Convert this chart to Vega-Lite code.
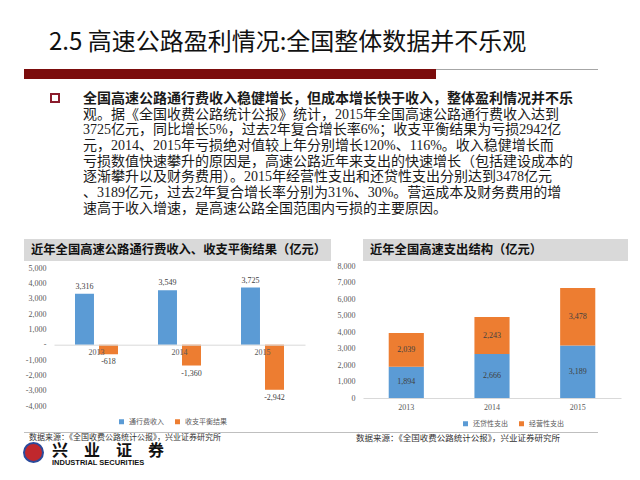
{
  "$schema": "https://vega.github.io/schema/vega-lite/v6.json",
  "background": "white",
  "padding": {"left": 23, "top": 31, "right": 0, "bottom": 0},
  "config": {
    "view": {"stroke": null},
    "font": "Noto Sans CJK SC",
    "title": {"anchor": "start", "frame": "group", "color": "#1a1a1a"},
    "axis": {"labelFont": "Liberation Serif", "labelFontSize": 8, "labelColor": "#595959", "ticks": false, "grid": false, "title": null},
    "legend": {"labelFont": "Noto Sans CJK SC", "labelFontSize": 7, "labelColor": "#595959", "symbolType": "square", "symbolSize": 25, "title": null, "direction": "horizontal", "orient": "none", "columnPadding": 10, "symbolStrokeWidth": 0}
  },
  "spacing": 5,
  "vconcat": [
    {
      "spacing": 22,
      "vconcat": [
        {
          "spacing": 12,
          "vconcat": [
            {
              "spacing": 0,
              "title": {"text": "2.5 高速公路盈利情况:全国整体数据并不乐观", "orient": "top", "offset": 14, "dx": 25, "fontSize": 24, "fontWeight": "normal", "color": "#111111"},
              "hconcat": [
                {
                  "width": 412, "height": 10,
                  "view": {"fill": "#7b0c0c", "stroke": null},
                  "data": {"values": []},
                  "mark": "rule",
                  "encoding": {}
                },
                {
                  "width": 162, "height": 1,
                  "view": {"fill": "#a6a6a6", "stroke": null},
                  "data": {"values": []},
                  "mark": "rule",
                  "encoding": {}
                }
              ]
            },
            {
              "spacing": 25,
              "hconcat": [
                {"width": 1, "height": 1, "data": {"values": []}, "mark": "rule", "encoding": {}},
                {
                  "width": 8, "height": 8,
                  "view": {"fill": null, "stroke": "#8b1c2c", "strokeWidth": 2},
                  "title": {
                    "text": ["全国高速公路通行费收入稳健增长，但成本增长快于收入，整体盈利情况并不乐"],
                    "subtitle": [
                      "观。据《全国收费公路统计公报》统计，2015年全国高速公路通行费收入达到",
                      "3725亿元，同比增长5%，过去2年复合增长率6%；收支平衡结果为亏损2942亿",
                      "元，2014、2015年亏损绝对值较上年分别增长120%、116%。收入稳健增长而",
                      "亏损数值快速攀升的原因是，高速公路近年来支出的快速增长（包括建设成本的",
                      "逐渐攀升以及财务费用）。2015年经营性支出和还贷性支出分别达到3478亿元",
                      "、3189亿元，过去2年复合增长率分别为31%、30%。营运成本及财务费用的增",
                      "速高于收入增速，是高速公路全国范围内亏损的主要原因。"
                    ],
                    "orient": "bottom", "offset": -10, "dx": 32, "limit": 600,
                    "fontSize": 14, "fontWeight": "bold", "lineHeight": 15.7, "color": "#1a1a1a",
                    "subtitleFont": "Liberation Serif, Noto Sans CJK SC", "subtitleFontSize": 14, "subtitleLineHeight": 15.7,
                    "subtitleColor": "#1a1a1a", "subtitlePadding": 1.7
                  },
                  "data": {"values": []},
                  "mark": "rule",
                  "encoding": {}
                }
              ]
            }
          ]
        },
        {
          "spacing": 6,
          "resolve": {"scale": {"color": "independent", "y": "independent", "x": "independent"}, "legend": {"color": "independent"}},
          "hconcat": [
            {
              "spacing": 3,
              "vconcat": [
                {
                  "width": 307, "height": 22,
                  "view": {"fill": "#d9d9d9", "stroke": null},
                  "title": {"text": "近年全国高速公路通行费收入、收支平衡结果（亿元）", "orient": "bottom", "offset": -17, "dx": 7, "limit": 400, "fontSize": 12.3, "fontWeight": "bold", "color": "#111111"},
                  "data": {"values": []},
                  "mark": "rule",
                  "encoding": {}
                },
                {
                  "spacing": 0,
                  "hconcat": [
                    {"width": 1, "height": 1, "data": {"values": []}, "mark": "rule", "encoding": {}},
                    {
                      "width": 251, "height": 138,
                      "data": {"values": [
                        {"year": "2013", "series": "通行费收入", "v": 3316},
                        {"year": "2013", "series": "收支平衡结果", "v": -618},
                        {"year": "2014", "series": "通行费收入", "v": 3549},
                        {"year": "2014", "series": "收支平衡结果", "v": -1360},
                        {"year": "2015", "series": "通行费收入", "v": 3725},
                        {"year": "2015", "series": "收支平衡结果", "v": -2942}
                      ]},
                      "encoding": {
                        "x": {"field": "year", "type": "nominal", "scale": {"paddingInner": 0.482, "paddingOuter": 0.253},
                              "axis": {"labelAngle": 0, "domainColor": "#d9d9d9", "offset": -61.3, "labelPadding": 4, "labelDx": -3, "zindex": 1}},
                        "xOffset": {"field": "series", "type": "nominal", "scale": {"domain": ["通行费收入", "收支平衡结果"], "paddingInner": 0.21}},
                        "y": {"field": "v", "type": "quantitative", "scale": {"domain": [-4000, 5000], "nice": false},
                              "axis": {"values": [-4000, -3000, -2000, -1000, 0, 1000, 2000, 3000, 4000, 5000], "domain": false, "labelPadding": 8,
                                       "labelExpr": "datum.value == 0 ? '-' : replace(format(datum.value, ','), '\u2212', '-')"}}
                      },
                      "layer": [
                        {
                          "mark": {"type": "bar"},
                          "encoding": {
                            "color": {"field": "series", "type": "nominal",
                                      "scale": {"domain": ["通行费收入", "收支平衡结果"], "range": ["#5b9bd5", "#ed7d31"]},
                                      "legend": {"legendX": 94, "legendY": 179}}
                          }
                        },
                        {
                          "transform": [{"filter": "datum.v > 0"}],
                          "mark": {"type": "text", "baseline": "bottom", "dy": -3, "font": "Liberation Serif", "fontSize": 8, "color": "#404040"},
                          "encoding": {"text": {"field": "v", "type": "quantitative", "format": ","}}
                        },
                        {
                          "transform": [{"filter": "datum.v < 0"}, {"calculate": "replace(format(datum.v, ','), '\u2212', '-')", "as": "label"}],
                          "mark": {"type": "text", "baseline": "top", "dy": 4, "font": "Liberation Serif", "fontSize": 8, "color": "#404040"},
                          "encoding": {"text": {"field": "label", "type": "nominal"}}
                        }
                      ]
                    }
                  ]
                }
              ]
            },
            {
              "spacing": 1,
              "vconcat": [
                {
                  "width": 265, "height": 22,
                  "view": {"fill": "#d9d9d9", "stroke": null},
                  "title": {"text": "近年全国高速支出结构（亿元）", "orient": "bottom", "offset": -17, "dx": 7, "limit": 400, "fontSize": 12.3, "fontWeight": "bold", "color": "#111111"},
                  "data": {"values": []},
                  "mark": "rule",
                  "encoding": {}
                },
                {
                  "width": 258, "height": 132,
                  "data": {"values": [
                    {"year": "2013", "series": "还贷性支出", "v": 1894},
                    {"year": "2013", "series": "经营性支出", "v": 2039},
                    {"year": "2014", "series": "还贷性支出", "v": 2666},
                    {"year": "2014", "series": "经营性支出", "v": 2243},
                    {"year": "2015", "series": "还贷性支出", "v": 3189},
                    {"year": "2015", "series": "经营性支出", "v": 3478}
                  ]},
                  "transform": [
                    {"stack": "v", "groupby": ["year"], "sort": [{"field": "series", "order": "descending"}], "as": ["v0", "v1"]},
                    {"calculate": "(datum.v0 + datum.v1) / 2", "as": "mid"}
                  ],
                  "encoding": {
                    "x": {"field": "year", "type": "nominal", "scale": {"paddingInner": 0.59, "paddingOuter": 0.3},
                          "axis": {"labelAngle": 0, "domainColor": "#d9d9d9", "labelPadding": 5}}
                  },
                  "layer": [
                    {
                      "mark": {"type": "bar"},
                      "encoding": {
                        "y": {"field": "v0", "type": "quantitative", "scale": {"domain": [0, 8000], "nice": false},
                              "axis": {"values": [0, 1000, 2000, 3000, 4000, 5000, 6000, 7000, 8000], "domain": false, "labelPadding": 8, "labelExpr": "format(datum.value, ',')"}},
                        "y2": {"field": "v1"},
                        "color": {"field": "series", "type": "nominal",
                                  "scale": {"domain": ["还贷性支出", "经营性支出"], "range": ["#5b9bd5", "#ed7d31"]},
                                  "legend": {"legendX": 99, "legendY": 181}}
                      }
                    },
                    {
                      "mark": {"type": "text", "font": "Liberation Serif", "fontSize": 8, "color": "#404040"},
                      "encoding": {
                        "y": {"field": "mid", "type": "quantitative",
                              "axis": {"values": [0, 1000, 2000, 3000, 4000, 5000, 6000, 7000, 8000], "domain": false, "labelPadding": 8, "labelExpr": "format(datum.value, ',')"}},
                        "text": {"field": "v", "type": "quantitative", "format": ","}
                      }
                    }
                  ]
                }
              ]
            }
          ]
        }
      ]
    },
    {
      "spacing": -3,
      "vconcat": [
        {
          "spacing": 0,
          "hconcat": [
            {
              "width": 332, "height": 1,
              "view": {"fill": "#bfbfbf", "stroke": null},
              "title": {"text": "数据来源：《全国收费公路统计公报》，兴业证券研究所", "orient": "bottom", "offset": 1, "dx": 5, "fontSize": 8, "fontWeight": "normal", "color": "#333333"},
              "data": {"values": []},
              "mark": "rule",
              "encoding": {}
            },
            {
              "width": 242, "height": 1,
              "view": {"fill": "#bfbfbf", "stroke": null},
              "title": {"text": "数据来源：《全国收费公路统计公报》，兴业证券研究所", "orient": "bottom", "offset": 1, "dx": 0, "fontSize": 8.5, "fontWeight": "normal", "color": "#333333"},
              "data": {"values": []},
              "mark": "rule",
              "encoding": {}
            }
          ]
        },
        {
          "spacing": 8,
          "hconcat": [
            {
              "width": 19, "height": 19,
              "view": {"fill": "#c0282d", "stroke": "#2b4a9b", "strokeWidth": 2, "cornerRadius": 9.5},
              "data": {"values": []},
              "mark": "rule",
              "encoding": {}
            },
            {
              "width": 1, "height": 19,
              "title": {"text": "兴　业　证　券", "subtitle": " INDUSTRIAL SECURITIES", "orient": "bottom", "offset": -19, "fontSize": 16, "fontWeight": "bold", "color": "#111111",
                        "subtitleFont": "Liberation Sans", "subtitleFontSize": 7.5, "subtitleFontWeight": "bold", "subtitleColor": "#111111", "subtitlePadding": 0},
              "data": {"values": []},
              "mark": "rule",
              "encoding": {}
            }
          ]
        }
      ]
    }
  ]
}
